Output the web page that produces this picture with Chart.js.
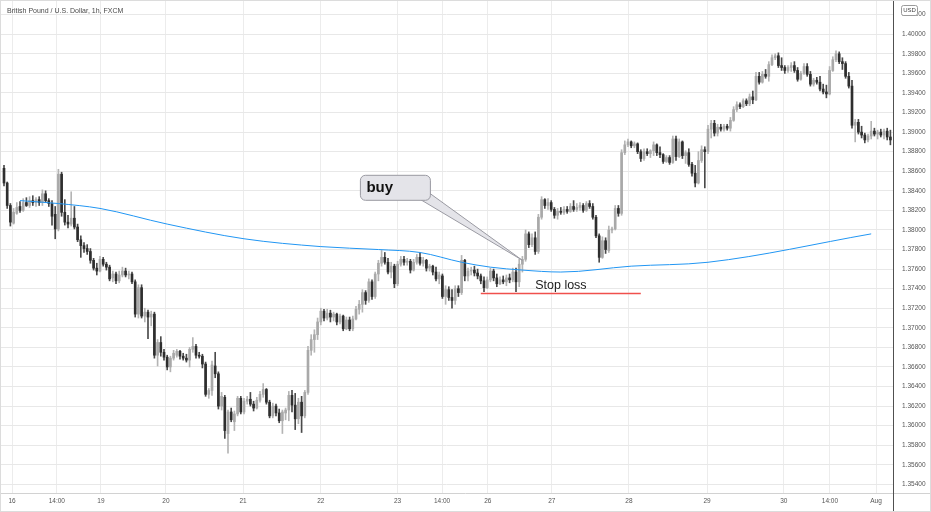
<!DOCTYPE html>
<html>
<head>
<meta charset="utf-8">
<title>British Pound / U.S. Dollar, 1h</title>
<script src="https://cdn.jsdelivr.net/npm/chart.js@4.4.0/dist/chart.umd.min.js"></script>
<style>
  html, body { margin: 0; padding: 0; background: #fff; }
  #wrap { width: 931px; height: 512px; position: relative; }
</style>
</head>
<body>
<div id="wrap"><canvas id="grafico"></canvas></div>
<script>
// Candles GBP/USD 1h (FXCM)
const opens = [
  1.3863,1.3848,1.3825,1.3807,1.3817,1.3824,1.3820,1.3828,1.3825,1.3830,
  1.3828,1.3831,1.3828,1.3837,1.3830,1.3827,1.3816,1.3801,1.3857,1.3818,
  1.3808,1.3806,1.3812,1.3803,1.3790,1.3784,1.3781,1.3778,1.3769,1.3761,
  1.3758,1.3770,1.3765,1.3762,1.3751,1.3755,1.3748,1.3754,1.3758,1.3754,
  1.3755,1.3747,1.3714,1.3741,1.3712,1.3716,1.3711,1.3714,1.3672,1.3685,
  1.3675,1.3670,1.3660,1.3669,1.3672,1.3676,1.3671,1.3669,1.3667,1.3678,
  1.3681,1.3672,1.3671,1.3663,1.3632,1.3636,1.3661,1.3653,1.3620,1.3629,
  1.3592,1.3614,1.3604,1.3612,1.3628,1.3614,1.3625,1.3627,1.3622,1.3618,
  1.3626,1.3632,1.3637,1.3624,1.3610,1.3620,1.3613,1.3605,1.3613,1.3616,
  1.3631,1.3621,1.3607,1.3624,1.3610,1.3634,1.3677,1.3688,1.3693,1.3706,
  1.3717,1.3710,1.3715,1.3711,1.3714,1.3706,1.3712,1.3699,1.3708,1.3699,
  1.3709,1.3719,1.3724,1.3736,1.3728,1.3747,1.3732,1.3755,1.3766,1.3772,
  1.3767,1.3757,1.3763,1.3745,1.3765,1.3770,1.3767,1.3768,1.3759,1.3767,
  1.3772,1.3766,1.3769,1.3761,1.3763,1.3757,1.3750,1.3753,1.3732,1.3739,
  1.3731,1.3728,1.3740,1.3736,1.3769,1.3753,1.3758,1.3759,1.3756,1.3753,
  1.3748,1.3741,1.3749,1.3758,1.3751,1.3745,1.3749,1.3747,1.3751,1.3749,
  1.3757,1.3747,1.3765,1.3770,1.3796,1.3785,1.3792,1.3778,1.3813,1.3831,
  1.3825,1.3828,1.3821,1.3815,1.3819,1.3818,1.3821,1.3819,1.3824,1.3821,
  1.3823,1.3825,1.3820,1.3827,1.3824,1.3813,1.3794,1.3772,1.3789,1.3779,
  1.3800,1.3801,1.3822,1.3817,1.3879,1.3887,1.3890,1.3886,1.3888,1.3880,
  1.3873,1.3880,1.3878,1.3881,1.3887,1.3879,1.3877,1.3870,1.3874,1.3869,
  1.3893,1.3875,1.3890,1.3876,1.3879,1.3867,1.3858,1.3848,1.3871,1.3882,
  1.3880,1.3903,1.3909,1.3899,1.3905,1.3903,1.3906,1.3904,1.3912,1.3923,
  1.3928,1.3926,1.3932,1.3929,1.3936,1.3933,1.3957,1.3951,1.3959,1.3957,
  1.3969,1.3976,1.3978,1.3968,1.3966,1.3963,1.3966,1.3968,1.3963,1.3954,
  1.3960,1.3967,1.3959,1.3949,1.3953,1.3951,1.3944,1.3941,1.3939,1.3963,
  1.3974,1.3980,1.3972,1.3970,1.3957,1.3947,1.3907,1.3910,1.3900,1.3897,
  1.3892,1.3896,1.3901,1.3898,1.3900,1.3897,1.3901,1.3895
];
const highs = [
  1.3866,1.3849,1.3827,1.3822,1.3828,1.3829,1.3832,1.3833,1.3834,1.3835,
  1.3833,1.3834,1.3841,1.3840,1.3832,1.3830,1.3824,1.3862,1.3859,1.3831,
  1.3815,1.3839,1.3824,1.3806,1.3794,1.3787,1.3785,1.3781,1.3771,1.3766,
  1.3773,1.3772,1.3767,1.3764,1.3758,1.3757,1.3758,1.3762,1.3761,1.3758,
  1.3757,1.3749,1.3744,1.3744,1.3720,1.3718,1.3717,1.3716,1.3688,1.3691,
  1.3678,1.3672,1.3671,1.3677,1.3678,1.3677,1.3674,1.3673,1.3680,1.3690,
  1.3683,1.3675,1.3673,1.3665,1.3638,1.3666,1.3675,1.3655,1.3634,1.3631,
  1.3616,1.3618,1.3615,1.3630,1.3630,1.3628,1.3630,1.3634,1.3625,1.3629,
  1.3635,1.3643,1.3638,1.3626,1.3623,1.3622,1.3617,1.3616,1.3618,1.3635,
  1.3636,1.3633,1.3628,1.3630,1.3636,1.3681,1.3693,1.3698,1.3710,1.3720,
  1.3719,1.3719,1.3718,1.3716,1.3715,1.3714,1.3713,1.3711,1.3711,1.3712,
  1.3722,1.3728,1.3739,1.3738,1.3750,1.3749,1.3757,1.3769,1.3779,1.3777,
  1.3771,1.3767,1.3765,1.3768,1.3773,1.3773,1.3771,1.3770,1.3770,1.3775,
  1.3777,1.3772,1.3770,1.3765,1.3764,1.3762,1.3757,1.3755,1.3743,1.3742,
  1.3739,1.3743,1.3743,1.3774,1.3770,1.3761,1.3762,1.3763,1.3760,1.3755,
  1.3752,1.3752,1.3761,1.3760,1.3755,1.3752,1.3753,1.3754,1.3755,1.3761,
  1.3761,1.3770,1.3773,1.3800,1.3798,1.3796,1.3798,1.3816,1.3834,1.3832,
  1.3832,1.3830,1.3823,1.3822,1.3823,1.3824,1.3824,1.3827,1.3830,1.3827,
  1.3828,1.3827,1.3829,1.3830,1.3827,1.3815,1.3796,1.3793,1.3792,1.3804,
  1.3803,1.3825,1.3825,1.3882,1.3891,1.3893,1.3891,1.3890,1.3889,1.3882,
  1.3883,1.3883,1.3882,1.3890,1.3888,1.3885,1.3878,1.3876,1.3876,1.3896,
  1.3896,1.3893,1.3891,1.3881,1.3883,1.3869,1.3866,1.3880,1.3886,1.3885,
  1.3907,1.3912,1.3912,1.3908,1.3908,1.3908,1.3908,1.3915,1.3926,1.3931,
  1.3930,1.3934,1.3934,1.3939,1.3942,1.3961,1.3961,1.3962,1.3964,1.3972,
  1.3979,1.3980,1.3981,1.3976,1.3968,1.3968,1.3971,1.3972,1.3966,1.3962,
  1.3970,1.3970,1.3962,1.3955,1.3956,1.3957,1.3949,1.3948,1.3967,1.3977,
  1.3983,1.3982,1.3976,1.3972,1.3961,1.3953,1.3913,1.3913,1.3906,1.3899,
  1.3898,1.3911,1.3904,1.3902,1.3903,1.3903,1.3904,1.3902
];
const lows = [
  1.3845,1.3822,1.3804,1.3806,1.3816,1.3818,1.3819,1.3824,1.3823,1.3825,
  1.3824,1.3825,1.3825,1.3828,1.3824,1.3805,1.3791,1.3799,1.3814,1.3805,
  1.3802,1.3804,1.3801,1.3788,1.3772,1.3777,1.3775,1.3766,1.3759,1.3754,
  1.3757,1.3763,1.3759,1.3748,1.3747,1.3745,1.3746,1.3752,1.3752,1.3750,
  1.3745,1.3711,1.3710,1.3710,1.3706,1.3689,1.3702,1.3669,1.3661,1.3671,
  1.3667,1.3657,1.3655,1.3667,1.3670,1.3668,1.3667,1.3665,1.3660,1.3675,
  1.3669,1.3669,1.3659,1.3630,1.3628,1.3631,1.3649,1.3617,1.3616,1.3587,
  1.3572,1.3604,1.3595,1.3610,1.3612,1.3612,1.3622,1.3620,1.3615,1.3617,
  1.3624,1.3629,1.3622,1.3608,1.3608,1.3610,1.3603,1.3592,1.3606,1.3605,
  1.3614,1.3596,1.3602,1.3593,1.3608,1.3632,1.3672,1.3675,1.3688,1.3703,
  1.3707,1.3708,1.3706,1.3707,1.3703,1.3704,1.3697,1.3698,1.3697,1.3697,
  1.3708,1.3714,1.3716,1.3724,1.3726,1.3729,1.3730,1.3748,1.3763,1.3765,
  1.3755,1.3751,1.3741,1.3743,1.3763,1.3764,1.3764,1.3756,1.3758,1.3765,
  1.3764,1.3763,1.3758,1.3758,1.3754,1.3748,1.3745,1.3730,1.3724,1.3728,
  1.3720,1.3724,1.3732,1.3734,1.3748,1.3748,1.3754,1.3753,1.3750,1.3745,
  1.3737,1.3740,1.3747,1.3748,1.3742,1.3744,1.3745,1.3743,1.3746,1.3747,
  1.3737,1.3742,1.3757,1.3768,1.3782,1.3783,1.3775,1.3776,1.3811,1.3822,
  1.3821,1.3819,1.3812,1.3811,1.3816,1.3816,1.3817,1.3818,1.3819,1.3819,
  1.3820,1.3818,1.3819,1.3822,1.3811,1.3792,1.3767,1.3771,1.3776,1.3777,
  1.3797,1.3800,1.3814,1.3815,1.3877,1.3885,1.3884,1.3884,1.3878,1.3870,
  1.3871,1.3876,1.3874,1.3876,1.3876,1.3874,1.3868,1.3869,1.3867,1.3868,
  1.3871,1.3874,1.3873,1.3868,1.3865,1.3855,1.3844,1.3847,1.3869,1.3843,
  1.3878,1.3894,1.3896,1.3896,1.3901,1.3901,1.3902,1.3901,1.3911,1.3921,
  1.3924,1.3925,1.3927,1.3927,1.3929,1.3932,1.3949,1.3950,1.3955,1.3952,
  1.3968,1.3974,1.3966,1.3963,1.3960,1.3961,1.3962,1.3961,1.3952,1.3953,
  1.3959,1.3957,1.3947,1.3947,1.3949,1.3942,1.3939,1.3935,1.3938,1.3962,
  1.3972,1.3970,1.3964,1.3955,1.3945,1.3904,1.3890,1.3898,1.3894,1.3889,
  1.3890,1.3893,1.3896,1.3893,1.3895,1.3893,1.3892,1.3887
];
const closes = [
  1.3848,1.3825,1.3808,1.3818,1.3823,1.3820,1.3828,1.3825,1.3830,1.3828,
  1.3831,1.3828,1.3837,1.3830,1.3827,1.3814,1.3801,1.3857,1.3818,1.3808,
  1.3806,1.3812,1.3803,1.3790,1.3784,1.3781,1.3778,1.3769,1.3761,1.3758,
  1.3770,1.3765,1.3762,1.3750,1.3755,1.3748,1.3754,1.3758,1.3754,1.3755,
  1.3747,1.3714,1.3741,1.3712,1.3716,1.3711,1.3714,1.3672,1.3685,1.3675,
  1.3670,1.3660,1.3669,1.3674,1.3676,1.3671,1.3669,1.3667,1.3678,1.3681,
  1.3672,1.3671,1.3663,1.3632,1.3636,1.3662,1.3653,1.3620,1.3630,1.3595,
  1.3614,1.3606,1.3612,1.3628,1.3614,1.3625,1.3627,1.3622,1.3618,1.3626,
  1.3632,1.3637,1.3624,1.3610,1.3620,1.3613,1.3605,1.3614,1.3616,1.3631,
  1.3621,1.3607,1.3624,1.3610,1.3634,1.3677,1.3688,1.3693,1.3706,1.3717,
  1.3710,1.3715,1.3711,1.3714,1.3706,1.3712,1.3699,1.3708,1.3699,1.3709,
  1.3719,1.3724,1.3736,1.3728,1.3747,1.3732,1.3755,1.3766,1.3772,1.3767,
  1.3757,1.3763,1.3745,1.3765,1.3770,1.3767,1.3768,1.3759,1.3767,1.3772,
  1.3766,1.3769,1.3761,1.3763,1.3757,1.3750,1.3754,1.3732,1.3739,1.3731,
  1.3728,1.3740,1.3736,1.3769,1.3753,1.3758,1.3759,1.3756,1.3753,1.3748,
  1.3741,1.3749,1.3758,1.3751,1.3745,1.3749,1.3747,1.3751,1.3749,1.3757,
  1.3747,1.3765,1.3770,1.3796,1.3785,1.3792,1.3778,1.3813,1.3831,1.3825,
  1.3828,1.3821,1.3815,1.3819,1.3818,1.3821,1.3819,1.3824,1.3821,1.3823,
  1.3825,1.3820,1.3827,1.3824,1.3813,1.3794,1.3772,1.3789,1.3780,1.3800,
  1.3801,1.3822,1.3817,1.3879,1.3887,1.3890,1.3886,1.3888,1.3880,1.3873,
  1.3880,1.3878,1.3881,1.3887,1.3879,1.3877,1.3870,1.3874,1.3869,1.3893,
  1.3875,1.3890,1.3876,1.3879,1.3867,1.3858,1.3848,1.3871,1.3882,1.3880,
  1.3903,1.3909,1.3899,1.3905,1.3903,1.3906,1.3904,1.3912,1.3923,1.3928,
  1.3926,1.3932,1.3929,1.3936,1.3933,1.3957,1.3951,1.3959,1.3957,1.3969,
  1.3976,1.3978,1.3968,1.3966,1.3963,1.3966,1.3968,1.3963,1.3954,1.3960,
  1.3967,1.3959,1.3949,1.3953,1.3951,1.3944,1.3941,1.3939,1.3963,1.3974,
  1.3980,1.3972,1.3970,1.3957,1.3947,1.3907,1.3910,1.3900,1.3897,1.3892,
  1.3896,1.3901,1.3898,1.3900,1.3897,1.3901,1.3895,1.3892
];

// moving average (blue line), candle index -> price
const maIndex = [5, 17, 30, 51, 75, 99, 117, 130, 143, 152, 162, 174, 196, 220, 271];
const maValue = [1.3830, 1.3827, 1.3822, 1.3806, 1.3791, 1.3783, 1.3780, 1.3777, 1.3767, 1.3762, 1.3759, 1.3757, 1.3763, 1.3767, 1.3796];

// axis ticks
const xTickPos = [2.5, 16.5, 30.3, 50.6, 74.7, 99, 123, 136.9, 151.2, 171.2, 195.3, 219.7, 243.7, 258.1, 272.5];
const xTickLabels = ['16', '14:00', '19', '20', '21', '22', '23', '14:00', '26', '27', '28', '29', '30', '14:00', 'Aug'];
const yTicks = [1.354, 1.356, 1.358, 1.360, 1.362, 1.364, 1.366, 1.368, 1.370, 1.372, 1.374, 1.376,
                1.378, 1.380, 1.382, 1.384, 1.386, 1.388, 1.390, 1.392, 1.394, 1.396, 1.398, 1.400, 1.402];

// annotations
const buyIndex = 162, buyPrice = 1.3769;
const stopLoss = 1.3735, stopFrom = 149, stopTo = 199, stopLabelAt = 166;

const tickFont = { family: '"Liberation Sans", Arial, sans-serif', size: 6.5 };
const isUp = i => closes[i] >= opens[i];

const bodies = closes.map((c, i) => ({ x: i, y: [Math.min(opens[i], c), Math.max(opens[i], c)] }));
const wicks = closes.map((c, i) => ({ x: i, y: [Math.min(lows[i], opens[i], c), Math.max(highs[i], opens[i], c)] }));

const extras = {
    id: 'extras',
    afterDraw(chart) {
        const { ctx, chartArea, scales: { x, y } } = chart;
        ctx.save();

        // title
        ctx.fillStyle = '#4a4a4a';
        ctx.font = '7px "Liberation Sans", Arial, sans-serif';
        ctx.textBaseline = 'alphabetic';
        ctx.fillText('British Pound / U.S. Dollar, 1h, FXCM', 7, 12.5);

        // stop loss
        const sy = y.getPixelForValue(stopLoss);
        ctx.strokeStyle = '#f0504c';
        ctx.lineWidth = 1.6;
        ctx.beginPath();
        ctx.moveTo(x.getPixelForValue(stopFrom), sy);
        ctx.lineTo(x.getPixelForValue(stopTo), sy);
        ctx.stroke();
        ctx.fillStyle = '#1c1c1c';
        ctx.font = '12.5px "Liberation Sans", Arial, sans-serif';
        ctx.fillText('Stop loss', x.getPixelForValue(stopLabelAt), sy - 5);

        // buy callout
        const tx = x.getPixelForValue(buyIndex), ty = y.getPixelForValue(buyPrice);
        ctx.fillStyle = '#e4e4e9';
        ctx.strokeStyle = '#9a9aa2';
        ctx.lineWidth = 1;
        ctx.beginPath();
        ctx.moveTo(tx - 104, ty - 62);
        ctx.lineTo(tx, ty);
        ctx.lineTo(tx - 94, ty - 68);
        ctx.closePath();
        ctx.fill();
        ctx.stroke();
        ctx.beginPath();
        ctx.roundRect(tx - 162, ty - 85, 70, 25, 5);
        ctx.fill();
        ctx.stroke();
        ctx.fillStyle = '#111';
        ctx.font = 'bold 15px "Liberation Sans", Arial, sans-serif';
        ctx.fillText('buy', tx - 156, ty - 68);

        // frame: bottom axis line, right axis line, outer border
        ctx.strokeStyle = '#d2d2d2';
        ctx.beginPath();
        ctx.moveTo(0, chartArea.bottom + 0.5);
        ctx.lineTo(chart.width, chartArea.bottom + 0.5);
        ctx.stroke();
        ctx.strokeStyle = '#505050';
        ctx.beginPath();
        ctx.moveTo(chartArea.right + 0.5, chartArea.bottom);
        ctx.lineTo(chartArea.right + 0.5, chart.height);
        ctx.stroke();
        ctx.strokeStyle = '#dcdcdc';
        ctx.strokeRect(0.5, 0.5, chart.width - 1, chart.height - 1);

        // currency badge
        ctx.fillStyle = '#fff';
        ctx.strokeStyle = '#9a9a9a';
        ctx.beginPath();
        ctx.roundRect(chartArea.right + 8.5, 5.5, 16, 10, 2);
        ctx.fill();
        ctx.stroke();
        ctx.fillStyle = '#444';
        ctx.font = '6px "Liberation Sans", Arial, sans-serif';
        ctx.textAlign = 'center';
        ctx.textBaseline = 'middle';
        ctx.fillText('USD', chartArea.right + 16.5, 10.8);
        ctx.restore();
    }
};

new Chart(document.getElementById('grafico'), {
    type: 'bar',
    data: {
        datasets: [
            {
                type: 'line',
                data: maIndex.map((v, k) => ({ x: v, y: maValue[k] })),
                borderColor: '#2196f3',
                borderWidth: 1,
                pointRadius: 0,
                cubicInterpolationMode: 'monotone',
                order: 0
            },
            {
                data: bodies,
                grouped: false,
                barThickness: 2,
                maxBarThickness: 2,
                minBarLength: 1,
                backgroundColor: ctx => isUp(ctx.dataIndex) ? '#a9a9a9' : '#2e2e2e',
                order: 1
            },
            {
                data: wicks,
                grouped: false,
                barThickness: 1,
                maxBarThickness: 1,
                backgroundColor: ctx => isUp(ctx.dataIndex) ? '#b4b4b4' : '#4a4a4a',
                order: 2
            }
        ]
    },
    options: {
        responsive: true,
        maintainAspectRatio: false,
        devicePixelRatio: 1,
        animation: false,
        layout: { padding: 0 },
        plugins: { legend: { display: false }, tooltip: { enabled: false } },
        scales: {
            x: {
                type: 'linear',
                offset: false,
                min: -1.25,
                max: 277.8125,
                grid: { color: '#ececec', drawTicks: false, offset: false },
                border: { display: false },
                ticks: {
                    autoSkip: false,
                    maxRotation: 0,
                    padding: 4,
                    color: '#555',
                    font: tickFont,
                    callback: (v, i) => xTickLabels[i]
                },
                afterBuildTicks: axis => { axis.ticks = xTickPos.map(v => ({ value: v })); },
                afterFit: axis => { axis.height = 19; axis.paddingLeft = 0; axis.paddingRight = 0; }
            },
            y: {
                position: 'right',
                min: 1.35312,
                max: 1.4035,
                grid: { color: '#e8e8e8', drawTicks: false },
                border: { color: '#505050' },
                ticks: {
                    padding: 9,
                    color: '#555',
                    font: tickFont,
                    callback: v => v.toFixed(5)
                },
                afterBuildTicks: axis => { axis.ticks = yTicks.map(v => ({ value: v })); },
                afterFit: axis => { axis.width = 38; axis.paddingTop = 0; axis.paddingBottom = 0; }
            }
        }
    },
    plugins: [extras]
});
</script>
</body>
</html>
